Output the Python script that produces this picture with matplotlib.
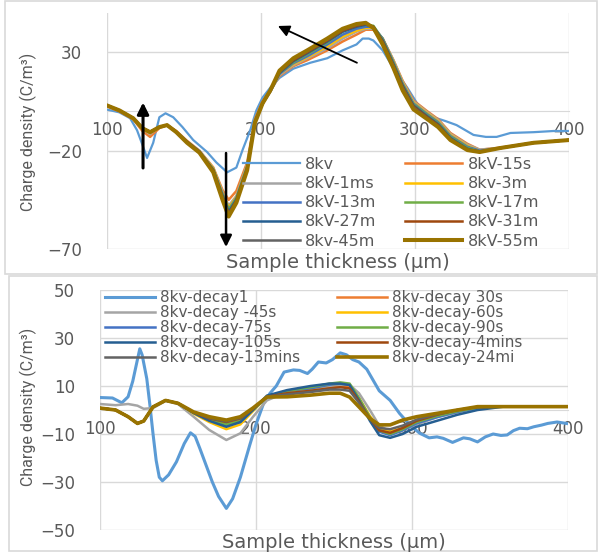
import matplotlib
matplotlib.use('Agg')
import matplotlib.pyplot as plt
from matplotlib.patches import Rectangle

# ---------------- data: top panel (charging) ----------------
x_top = [100, 108, 117, 123, 128, 134, 139, 145, 152, 160, 169, 175, 179, 184, 191, 196, 201, 206, 212,
         221, 230, 243, 253, 262, 268, 273, 279, 286, 292, 299, 308, 315, 323, 334, 342, 355, 377, 400]

x_8kv = [100, 108, 115, 119.5, 123, 126, 130, 134, 138, 143, 149, 156, 165, 171, 178, 184, 188, 193, 197,
         201, 206, 212, 221, 232, 243, 253, 262, 266, 270, 273, 279, 286, 295, 303, 312, 320, 327, 338,
         346, 353, 362, 377, 390, 400]
y_8kv = [0.9, -0.5, -3.5, -9.6, -17, -23.7, -16, -3, -1, -3, -8, -14.6, -20.7, -26, -31, -28.6, -19.7, -9.6,
         0.5, 7, 12, 17, 21.7, 24.7, 27, 31, 34, 37, 37, 36, 31, 22, 12, 2, -3, -5, -7, -12, -13, -13, -11,
         -10.6, -10, -10]

y_15s = [2.5, 0, -4, -10, -13, -8.5, -7, -10, -15, -20, -28.5, -40, -45, -40.5, -26, -4, 5, 10.5, 18,
         23, 26, 31, 35.5, 39, 41.5, 41.5, 37, 26, 15.5, 5.5, 0, -4, -11, -16.5, -19.5, -18.5, -16, -14.6]
y_1ms = [3, 0.5, -3.5, -9, -11.5, -8, -7, -10.5, -15.5, -20, -29, -41, -48, -43, -27, -5, 4, 10, 18.5,
         23.5, 27, 32, 37, 40.5, 42, 42, 37, 26, 15, 5, -0.5, -4.5, -11.5, -17, -19.5, -18.7, -16, -14.6]
y_3m = [3, 0.5, -3.5, -9, -11, -8, -7, -10.5, -15.5, -20.5, -29, -41.5, -49, -43.5, -27.5, -5, 4, 10, 19,
        24, 27.5, 33, 38, 41, 42.5, 42.5, 37, 25.5, 14.5, 4.5, -1, -5, -12, -17.5, -20, -18.7, -16, -14.6]
y_13m = [3, 0.5, -3.5, -8.5, -10.5, -8, -7, -10.5, -15.5, -20.5, -29.5, -42, -50, -44, -28, -5, 4, 10, 19,
         24.5, 28, 34, 39, 42, 43, 43, 37, 25, 14, 4, -1.5, -5.5, -12.5, -18, -20, -18.7, -16, -14.6]
y_17m = [3, 0.5, -3.5, -8.5, -10.5, -8, -7, -10.5, -15.5, -20.5, -29.5, -42.5, -50, -44.5, -28.5, -5, 4, 10.5,
         19.5, 25, 29, 35, 40.5, 43, 44, 43.5, 36.5, 24.5, 13.5, 3.5, -2, -6, -13, -18.5, -20.5, -18.7, -16, -14.6]
y_27m = [3, 0.5, -3.5, -8.5, -10.5, -8, -7, -10.5, -15.5, -20.5, -30, -43, -51, -45, -29, -5.5, 4, 10.5,
         19.5, 25.5, 29.5, 35.5, 40.5, 43, 44, 43, 36, 24, 13, 3, -2.5, -6.5, -13.5, -19, -20.5, -18.7, -16, -14.6]
y_31m = [3, 0.5, -3.5, -8.5, -10.5, -8, -7, -10.5, -15.5, -20.5, -30, -43.5, -52, -45.5, -29, -5.5, 4, 10.5,
         20, 26, 30, 36, 41, 43.5, 44.5, 43, 35.5, 23.5, 12.5, 2.5, -3, -7, -14, -19.5, -20.5, -18.7, -16, -14.6]
y_45m = [3, 0.5, -3.5, -8.5, -10.5, -8, -7, -10.5, -16, -21, -30.5, -44, -52.5, -46, -29.5, -6, 4, 10.5, 20,
         26.5, 30.5, 36.5, 41.5, 44, 45, 42.5, 35, 23, 12, 2, -3.5, -7.5, -14, -19.5, -20.7, -18.7, -16, -14.6]
y_55m = [3, 0.5, -3.5, -8.6, -10.6, -8, -7, -10.6, -16, -21, -31, -45, -53.5, -46.5, -30, -6, 4, 10.6, 20.7,
         27, 31, 37, 42, 44.4, 45, 42.4, 34, 22, 10.6, 1, -4, -8, -14.6, -19.7, -20.7, -18.7, -16, -14.6]

top_labels = ['8kv', '8kV-15s', '8kV-1ms', '8kv-3m', '8kV-13m', '8kV-17m', '8kV-27m', '8kV-31m',
              '8kv-45m', '8kV-55m']

# ---------------- data: bottom panel (decay) ----------------
x_d1 = [100, 108, 114, 118, 121, 124, 125.5, 127, 130, 132, 134, 136, 138, 140, 144, 149, 154, 158, 161,
        164, 168, 172, 176, 181, 185, 190, 196, 200, 205, 209, 213, 218, 224, 228, 233, 236, 240, 245, 249,
        254, 258, 262, 266, 271, 275, 279, 286, 292, 299, 305, 311, 316, 320, 326, 333, 337, 342, 347, 352,
        357, 361, 365, 369, 374, 378, 383, 387, 393, 400]
y_d1 = [5.2, 5, 3, 5.5, 12, 21, 25.5, 23, 13, 2, -10, -21, -28, -29.5, -27, -21.6, -14, -9.5, -11, -16, -23,
        -30, -36, -41, -37, -28, -14.6, -6, 3, 7, 10, 15.8, 16.7, 16.5, 15.2, 17, 20, 19.6, 21, 23.8, 23, 21,
        20, 17, 12.5, 8, 4, -1.4, -6.5, -9.7, -11.6, -11.2, -11.8, -13.5, -11.6, -12, -13.3, -11.2, -10, -10.6,
        -10.4, -8.6, -7.6, -7.8, -7, -6.3, -5.6, -5, -5.7]

x_bot = [100, 110, 118, 124, 128, 134, 142, 150, 160, 170, 181, 190, 198, 207, 220, 235, 247, 254, 260, 266,
         273, 279, 286, 294, 303, 316, 329, 342, 360, 380, 400]
y_30s = [0.8, 0, -2.8, -5.6, -4.6, 1.3, 4, 2.8, -1, -3.5, -5.6, -4, 0.5, 5.5, 7, 8, 9.5, 10, 9.5, 4.5, -3,
         -8, -9.5, -8, -5, -2.5, -0.5, 1, 1.5, 1.5, 1.5]
y_45s = [2.5, 2, 2.5, 1.8, 0.5, 0.8, 3.8, 2.5, -2.8, -8.3, -12.5, -9.7, -2.9, 4, 7.5, 8.5, 10, 10.5, 10.5, 7,
         0, -6.5, -9, -8.5, -6, -3, -1, 0.8, 1.5, 1.5, 1.5]
y_60s = [0.8, 0, -2.8, -5.6, -4.6, 1.3, 4, 2.8, -1.5, -5, -8, -6, -0.5, 5.5, 8, 9, 10.5, 11, 10.5, 5, -2.5,
         -7.5, -9, -7.5, -4.5, -2, -0.3, 1, 1.5, 1.5, 1.5]
y_75s = [0.8, 0, -2.8, -5.6, -4.6, 1.3, 4, 2.8, -1.2, -4, -6.5, -5, 0, 5.5, 8, 9, 10.5, 11, 10.5, 4.5, -3.5,
         -9, -10.5, -8.5, -5.5, -3, -0.8, 1, 1.5, 1.5, 1.5]
y_90s = [0.8, 0, -2.8, -5.6, -4.6, 1.3, 4, 2.8, -1.2, -4, -6, -4.5, 0, 5.5, 8, 9.5, 11, 11.5, 11, 5, -3,
         -8.5, -10, -8, -5, -2.5, -0.5, 1, 1.5, 1.5, 1.5]
y_105s = [0.8, 0, -2.8, -5.6, -4.6, 1.3, 4, 2.8, -1.2, -4.5, -7, -5, 0, 6, 8.3, 10, 11, 11, 10.4, 4, -4.5,
          -10.5, -11.6, -10, -7, -4.5, -2, 0, 1.5, 1.5, 1.5]
y_4min = [0.8, 0, -2.8, -5.6, -4.6, 1.3, 4, 2.8, -1, -3.5, -5, -3.5, 0.5, 5.5, 7, 8, 9, 9.5, 9, 3.5, -3.5,
          -8.5, -9.5, -7.5, -4.5, -2, 0, 1.2, 1.5, 1.5, 1.5]
y_13min = [0.8, 0, -2.8, -5.6, -4.6, 1.3, 4, 2.8, -1, -3.3, -4.8, -3.3, 0.6, 5.5, 6.5, 7.5, 8.5, 8.5, 8, 3,
           -3.5, -7.5, -8, -6.5, -4, -1.8, 0, 1.3, 1.5, 1.5, 1.5]
y_24min = [0.8, 0, -2.8, -5.6, -4.6, 1.3, 4, 2.8, -0.8, -2.8, -4.2, -2.8, 0.8, 5.4, 5.5, 6.2, 7, 7, 5.4, 1.3,
           -3.5, -6.2, -6.2, -4.2, -2.8, -1.4, 0, 1.4, 1.4, 1.4, 1.4]

bot_labels = ['8kv-decay1', '8kv-decay 30s', '8kv-decay -45s', '8kv-decay-60s', '8kv-decay-75s',
              '8kv-decay-90s', '8kv-decay-105s', '8kv-decay-4mins', '8kv-decay-13mins', '8kv-decay-24mi']

colors = ['#5B9BD5', '#ED7D31', '#A5A5A5', '#FFC000', '#4472C4', '#70AD47', '#255E91', '#9E480E',
          '#636363', '#997300']

# ---------------- figure ----------------
W, H = 599, 552
fig = plt.figure(figsize=(W / 100, H / 100), dpi=100)
TXT = '#595959'
GRID = '#D9D9D9'

fig.patches.append(Rectangle((5 / W, 1 - 274 / H), 592 / W, 273 / H, transform=fig.transFigure,
                             fill=False, ec=GRID, lw=1.2))
fig.patches.append(Rectangle((9 / W, 1 - 551 / H), 588 / W, 275 / H, transform=fig.transFigure,
                             fill=False, ec=GRID, lw=1.2))

ax1 = fig.add_axes([107 / W, 1 - 249 / H, 462 / W, 236 / H])
ax2 = fig.add_axes([100 / W, 1 - 530 / H, 468 / W, 240 / H])


def style(ax, ylim, yticks):
    ax.set_xlim(100, 400)
    ax.set_ylim(*ylim)
    ax.set_xticks([100, 200, 300, 400])
    ax.set_yticks(yticks)
    ax.grid(True, color=GRID, lw=1)
    ax.set_axisbelow(True)
    for s in ['left', 'right', 'top']:
        ax.spines[s].set_visible(False)
    ax.spines['bottom'].set_position(('data', 0))
    ax.spines['bottom'].set_color(GRID)
    ax.set_facecolor('none')
    ax.tick_params(length=0, labelsize=12, labelcolor=TXT)
    ax.tick_params(axis='y', pad=18)
    ax.tick_params(axis='x', pad=7)


style(ax1, (-70, 50), [-70, -20, 30])
style(ax2, (-50, 50), [-50, -30, -10, 10, 30, 50])

# top series
top_y = [y_15s, y_1ms, y_3m, y_13m, y_17m, y_27m, y_31m, y_45m, y_55m]
lines1 = [ax1.plot(x_8kv, y_8kv, color=colors[0], lw=1.6, zorder=3)[0]]
for i, yy in enumerate(top_y):
    lw = 2.9 if i == len(top_y) - 1 else 1.8
    lines1.append(ax1.plot(x_top, yy, color=colors[i + 1], lw=lw, zorder=3,
                           solid_joinstyle='round')[0])

# bottom series
bot_y = [y_30s, y_45s, y_60s, y_75s, y_90s, y_105s, y_4min, y_13min, y_24min]
lines2 = [ax2.plot(x_d1, y_d1, color=colors[0], lw=2.2, zorder=3)[0]]
for i, yy in enumerate(bot_y):
    lw = 2.6 if i == len(bot_y) - 1 else 1.8
    lines2.append(ax2.plot(x_bot, yy, color=colors[i + 1], lw=lw, zorder=3,
                           solid_joinstyle='round')[0])

# arrows (top panel annotations)
arrow_up = ((123.4, -28.8), (123.4, 4.5))
arrow_down = ((177.3, -21.2), (177.3, -69))
arrow_diag = ((262.3, 24.7), (211, 43.4))
for (x0, y0), (x1, y1), lw in [(arrow_up[0], arrow_up[1], 2.2), (arrow_down[0], arrow_down[1], 1.8),
                               (arrow_diag[0], arrow_diag[1], 1.3)]:
    ax1.annotate('', xy=(x1, y1), xytext=(x0, y0),
                 arrowprops=dict(arrowstyle='-|>', color='black', lw=lw, mutation_scale=17,
                                 shrinkA=0, shrinkB=0), zorder=5)

# legends (row-major order like the source)
order = [0, 2, 4, 6, 8, 1, 3, 5, 7, 9]
fig.legend([lines1[i] for i in order], [top_labels[i] for i in order], ncol=2, loc='upper left',
           bbox_to_anchor=(243 / W, 1 - 157 / H), frameon=False, fontsize=11.5, handlelength=3.56,
           handletextpad=0.33, columnspacing=1.8, labelspacing=0.26, borderpad=0, borderaxespad=0,
           labelcolor=TXT)
fig.legend([lines2[i] for i in order], [bot_labels[i] for i in order], ncol=2, loc='upper left',
           bbox_to_anchor=(105 / W, 1 - 290 / H), frameon=False, fontsize=11, handlelength=3.27,
           handletextpad=0.33, columnspacing=2.4, labelspacing=0.0, borderpad=0, borderaxespad=0,
           labelcolor=TXT)

# axis titles
ylab_font = ['Roboto', 'DejaVu Sans']
fig.text(28 / W, 1 - 132 / H, 'Charge density (C/m³)', rotation=90, ha='center', va='center',
         fontsize=11.5, color=TXT, family=ylab_font)
fig.text(28 / W, 1 - 407 / H, 'Charge density (C/m³)', rotation=90, ha='center', va='center',
         fontsize=11.5, color=TXT, family=ylab_font)
fig.text(338 / W, 1 - 263 / H, 'Sample thickness (µm)', ha='center', va='center', fontsize=14,
         color=TXT)
fig.text(334 / W, 1 - 542 / H, 'Sample thickness (µm)', ha='center', va='center', fontsize=14,
         color=TXT)

fig.savefig('out.png', dpi=100)
